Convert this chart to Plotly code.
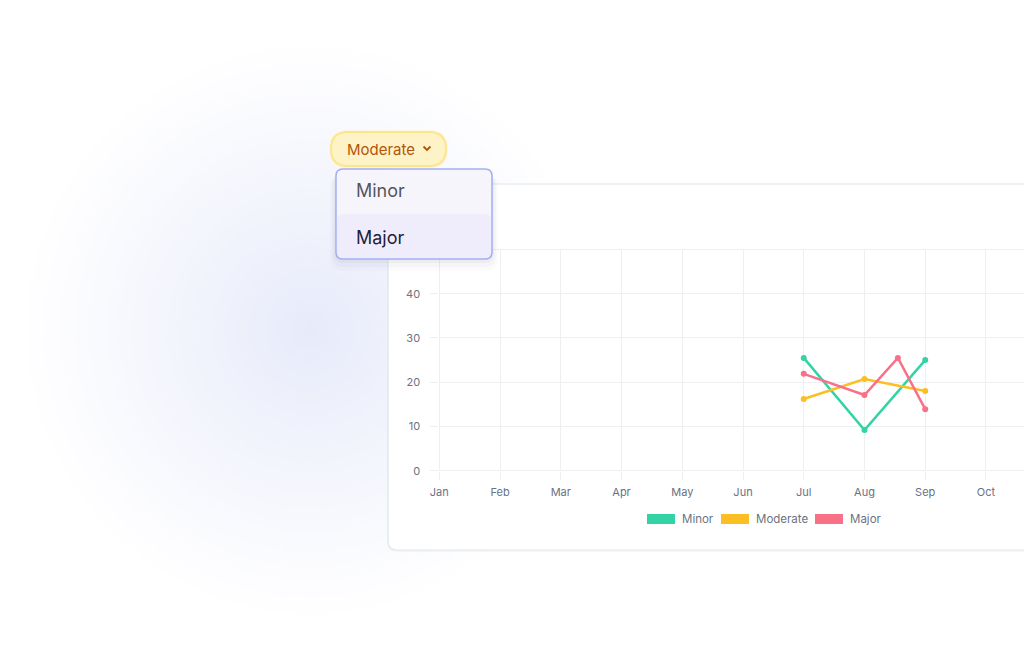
import base64
import struct
import zlib

import plotly.graph_objects as go

W, H = 1024, 663

months = ["Jan", "Feb", "Mar", "Apr", "May", "Jun", "Jul", "Aug", "Sep", "Oct", "Nov", "Dec"]
series_names = ["Minor", "Moderate", "Major"]
series_colors = ["#34d3a6", "#fbbf24", "#f87187"]

minor_x = [6, 7, 8]
minor_y = [25.5, 9.2, 25.0]
moderate_x = [6, 7, 8]
moderate_y = [16.2, 20.7, 18.0]
major_x = [6, 7, 7.55, 8]
major_y = [21.9, 17.1, 25.5, 13.9]

y_ticks = [0, 10, 20, 30, 40]
dropdown_label = "Moderate"
menu_items = ["Minor", "Major"]


def px(x, y):
    return x / W, 1 - y / H


def rrect(x0, y0, x1, y1, r):
    # rounded rectangle path in pixel coords -> paper coords
    pts = [
        ("M", [(x0 + r, y0)]),
        ("L", [(x1 - r, y0)]), ("Q", [(x1, y0), (x1, y0 + r)]),
        ("L", [(x1, y1 - r)]), ("Q", [(x1, y1), (x1 - r, y1)]),
        ("L", [(x0 + r, y1)]), ("Q", [(x0, y1), (x0, y1 - r)]),
        ("L", [(x0, y0 + r)]), ("Q", [(x0, y0), (x0 + r, y0)]),
    ]
    out = []
    for cmd, ps in pts:
        out.append(cmd + " " + " ".join("%.5f,%.5f" % px(a, b) for a, b in ps))
    return " ".join(out) + " Z"


def paper_shape(**kw):
    return dict(xref="paper", yref="paper", **kw)


def glow_png(size, rgb, power):
    # radial glow as an RGBA png, transparent at the rim
    rows = []
    c = (size - 1) / 2
    for j in range(size):
        row = bytearray([0])
        for i in range(size):
            d = ((i - c) ** 2 + (j - c) ** 2) ** 0.5 / c
            t = max(0.0, 1 - d)
            a = t ** power
            row += bytes([rgb[0], rgb[1], rgb[2], int(round(255 * a))])
        rows.append(bytes(row))
    raw = b"".join(rows)

    def chunk(tag, data):
        return struct.pack(">I", len(data)) + tag + data + struct.pack(">I", zlib.crc32(tag + data) & 0xffffffff)

    png = b"\x89PNG\r\n\x1a\n"
    png += chunk(b"IHDR", struct.pack(">IIBBBBB", size, size, 8, 6, 0, 0, 0))
    png += chunk(b"IDAT", zlib.compress(raw, 9))
    png += chunk(b"IEND", b"")
    return "data:image/png;base64," + base64.b64encode(png).decode()


shapes = []

# card
shapes.append(paper_shape(type="path", path=rrect(387, 184, 1100, 552, 10),
                          fillcolor="rgba(210,218,230,0.22)", line_width=0, layer="below"))
shapes.append(paper_shape(type="path", path=rrect(388, 184, 1100, 550, 9),
                          fillcolor="white", line=dict(color="#e1e7ea", width=1.2), layer="below"))
# header divider
dx0, dy = px(388.5, 249.5)
dx1, _ = px(1024, 249.5)
shapes.append(paper_shape(type="line", x0=dx0, x1=dx1, y0=dy, y1=dy,
                          line=dict(color="#eeeff1", width=1), layer="below"))

# legend swatches
legend_pos = [647, 721, 815]
for xs, c in zip(legend_pos, series_colors):
    a, b = px(xs, 514)
    c2, d = px(xs + 28, 524)
    shapes.append(paper_shape(type="rect", x0=a, x1=c2, y0=d, y1=b, fillcolor=c, line_width=0))

# dropdown pill
shapes.append(paper_shape(type="path", path=rrect(329, 130, 448, 168, 19),
                          fillcolor="rgba(254,243,199,0.5)", line_width=0))
shapes.append(paper_shape(type="path", path=rrect(331, 132, 446, 166, 17),
                          fillcolor="#fef3c7", line=dict(color="#fde58a", width=2)))
c1, c2_, c3 = px(423.5, 146.5), px(427, 150), px(430.5, 146.5)
shapes.append(paper_shape(type="path",
                          path="M %.5f,%.5f L %.5f,%.5f L %.5f,%.5f" % (c1 + c2_ + c3),
                          line=dict(color="#b45309", width=1.8)))

# menu shadow + menu
for k, a_ in [(12, 0.02), (8, 0.03), (4, 0.04)]:
    shapes.append(paper_shape(type="path",
                              path=rrect(336 - k / 2, 174, 492 + k / 2, 259 + k, 8 + k / 2),
                              fillcolor="rgba(60,60,110,%.2f)" % a_, line_width=0))
shapes.append(paper_shape(type="path", path=rrect(336, 169, 492, 259, 7),
                          fillcolor="#f6f5fb", line_width=0))
shapes.append(paper_shape(type="path", path=rrect(337, 214, 491, 258, 6),
                          fillcolor="#efedfc", line_width=0))
shapes.append(paper_shape(type="path", path=rrect(336, 169, 492, 259, 7),
                          fillcolor="rgba(0,0,0,0)", line=dict(color="#a3aef2", width=1.5)))

annotations = []
for xs, name in zip(legend_pos, series_names):
    a, b = px(xs + 33, 519)
    annotations.append(dict(x=a, y=b, xref="paper", yref="paper", text=name, showarrow=False,
                            xanchor="left", yanchor="middle",
                            font=dict(family="Inter", size=11.5, color="#6b7280")))
a, b = px(345, 149)
annotations.append(dict(x=a, y=b, xref="paper", yref="paper", text=dropdown_label, showarrow=False,
                        xanchor="left", yanchor="middle",
                        font=dict(family="Inter", size=15, color="#b45309")))
for yy, item, col in zip([191, 237], menu_items, ["#55555f", "#1f1d3a"]):
    a, b = px(354, yy)
    annotations.append(dict(x=a, y=b, xref="paper", yref="paper", text=item, showarrow=False,
                            xanchor="left", yanchor="middle",
                            font=dict(family="Inter", size=18, color=col)))

# background glow image
gcx, gcy, gR = 310, 330, 295
gx, gy = px(gcx - gR, gcy - gR)
images = [dict(source=glow_png(160, (231, 234, 250), 1.1), xref="paper", yref="paper",
               x=gx, y=gy, sizex=2 * gR / W, sizey=2 * gR / H, sizing="stretch",
               xanchor="left", yanchor="top", layer="below")]

fig = go.Figure()
for name, color, xs, ys in zip(series_names, series_colors,
                               [minor_x, moderate_x, major_x], [minor_y, moderate_y, major_y]):
    fig.add_trace(go.Scatter(x=xs, y=ys, name=name, mode="lines+markers",
                             line=dict(color=color, width=2.5), marker=dict(color=color, size=6)))

x_left = 439.3
x_step = 60.74
grid = "#eeeff1"
fig.update_layout(
    width=W, height=H,
    margin=dict(l=0, r=0, t=0, b=0),
    paper_bgcolor="white",
    plot_bgcolor="rgba(0,0,0,0)",
    showlegend=False,
    shapes=shapes,
    annotations=annotations,
    images=images,
    font=dict(family="Inter", size=11, color="#6b7280"),
    xaxis=dict(
        domain=[x_left / W, 1],
        range=[0, (W - x_left) / x_step],
        tickvals=list(range(len(months))), ticktext=months,
        showgrid=True, gridcolor=grid, zeroline=True, zerolinecolor=grid, zerolinewidth=1,
        ticks="outside", ticklen=8, tickcolor=grid, showline=False, automargin=False,
        ticklabelstandoff=3,
    ),
    yaxis=dict(
        domain=[1 - 470.7 / H, 1 - 249.5 / H],
        range=[0, 50],
        tickvals=y_ticks,
        showgrid=True, gridcolor=grid, zeroline=True, zerolinecolor=grid, zerolinewidth=1,
        ticks="outside", ticklen=8, tickcolor=grid, showline=False, automargin=False,
        ticklabelstandoff=8,
    ),
)

fig.write_html("out.html", config={"displayModeBar": False},
               post_script="document.body.style.margin='0';document.body.style.overflow='hidden';")
